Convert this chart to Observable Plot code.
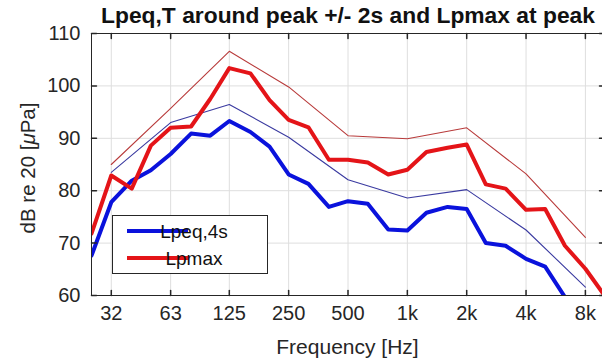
<!DOCTYPE html>
<html>
<head>
<meta charset="utf-8">
<script src="https://cdn.jsdelivr.net/npm/d3@7"></script>
<script src="https://cdn.jsdelivr.net/npm/@observablehq/plot@0.6"></script>
<style>
  html, body { margin: 0; padding: 0; background: white; overflow: hidden; }
  #chart { position: relative; width: 602px; height: 364px; }
</style>
</head>
<body>
<div id="chart"></div>
<script>
// ---- data ----
const title = "Lpeq,T around peak +/- 2s and Lpmax at peak";
const xLabel = "Frequency [Hz]";
const yLabelParts = ["dB re 20 [", "\u03bc", "Pa]"];

// 1/3-octave band centre frequencies (Hz)
const bands = [25, 31.5, 40, 50, 63, 80, 100, 125, 160, 200, 250, 315, 400, 500, 630, 800,
               1000, 1250, 1600, 2000, 2500, 3150, 4000, 5000, 6300, 8000, 10000];
// thick blue: Lpeq,4s (1/3 octave)
const lpeq = [67.6, 77.8, 81.9, 83.9, 87.0, 90.9, 90.5, 93.3, 91.2, 88.4, 83.1, 81.3, 76.9, 78.0,
              77.5, 72.6, 72.4, 75.8, 76.9, 76.5, 70.0, 69.5, 67.0, 65.5, 59.7, 55.0, 50.0];
// thick red: Lpmax (1/3 octave)
const lpmax = [71.8, 82.9, 80.4, 88.6, 92.0, 92.25, 97.5, 103.4, 102.4, 97.3, 93.5, 92.1, 85.9, 85.9,
               85.4, 83.1, 84.0, 87.4, 88.2, 88.8, 81.2, 80.4, 76.35, 76.5, 69.5, 65.1, 60.0];

// octave bands (thin lines)
const octBands = [31.5, 63, 125, 250, 500, 1000, 2000, 4000, 8000];
const octLpeq  = [83.5, 93.0, 96.45, 90.2, 82.1, 78.6, 80.2, 72.5, 61.6];
const octLpmax = [85.0, 95.7, 106.6, 99.8, 90.5, 89.9, 92.0, 83.2, 71.1];

const xTickLabels = ["32", "63", "125", "250", "500", "1k", "2k", "4k", "8k"];
const yTicks = [60, 70, 80, 90, 100, 110];

const seriesNames = ["Lpeq,4s", "Lpmax"];
const seriesColors = ["#0a12dc", "#e41418"];
const thinColors = ["#3a3aa0", "#b83a3a"];

// ---- build tables ----
const thick = [
  ...bands.map((f, i) => ({f, v: lpeq[i], s: seriesNames[0]})),
  ...bands.map((f, i) => ({f, v: lpmax[i], s: seriesNames[1]}))
];
const thin = [
  ...octBands.map((f, i) => ({f, v: octLpeq[i], s: "oct-" + seriesNames[0]})),
  ...octBands.map((f, i) => ({f, v: octLpmax[i], s: "oct-" + seriesNames[1]}))
];
const xTickData = octBands.map((f, i) => ({f, label: xTickLabels[i]}));

const W = 602, H = 364;
const mL = 91, mR = -2, mT = 33, mB = 69;
const axisColor = "#262626";
const gridColor = "#dedede";
const font = "'Liberation Sans', Arial, Helvetica, sans-serif";

const tickShape = { draw(context, l) { context.moveTo(0, 0); context.lineTo(0, -l); } };

const plot = Plot.plot({
  width: W, height: H,
  marginLeft: mL, marginRight: mR, marginTop: mT, marginBottom: mB,
  style: { fontFamily: font, fontSize: "20px", color: axisColor, background: "white", overflow: "visible" },
  x: { type: "log", domain: [25, 10000], axis: null },
  y: { domain: [60, 110], axis: null },
  marks: [
    Plot.gridX(octBands, { stroke: gridColor, strokeOpacity: 1 }),
    Plot.gridY(yTicks, { stroke: gridColor, strokeOpacity: 1 }),
    Plot.line(thin, { x: "f", y: "v", z: "s", stroke: d => d.s === "oct-" + seriesNames[0] ? thinColors[0] : thinColors[1], strokeWidth: 1.1, clip: true }),
    Plot.line(thick, { x: "f", y: "v", z: "s", stroke: d => d.s === seriesNames[0] ? seriesColors[0] : seriesColors[1], strokeWidth: 4, clip: true }),
    Plot.frame({ stroke: axisColor, strokeWidth: 1 }),
    // inward ticks
    Plot.vector(octBands, { x: d => d, frameAnchor: "bottom", length: 5, rotate: 0, anchor: "start", shape: tickShape, stroke: axisColor }),
    Plot.vector(octBands, { x: d => d, frameAnchor: "top", length: 5, rotate: 180, anchor: "start", shape: tickShape, stroke: axisColor }),
    Plot.vector(yTicks, { y: d => d, frameAnchor: "left", length: 5, rotate: 90, anchor: "start", shape: tickShape, stroke: axisColor }),
    Plot.vector(yTicks, { y: d => d, frameAnchor: "right", length: 5, rotate: -90, anchor: "start", shape: tickShape, stroke: axisColor }),
    // tick labels
    Plot.text(xTickData, { x: "f", text: "label", frameAnchor: "bottom", dy: 24, fontSize: 20, fill: axisColor }),
    Plot.text(yTicks, { y: d => d, text: d => String(d), frameAnchor: "left", dx: -11, textAnchor: "end", fontSize: 20, fill: axisColor })
  ]
});
document.getElementById("chart").appendChild(plot);

// ---- title, axis labels and legend ----
const svg = d3.select(plot);
const plotCx = (mL + (W - mR)) / 2;
const plotCy = (mT + (H - mB)) / 2;

svg.append("text")
  .attr("x", 348).attr("y", 23)
  .attr("text-anchor", "middle")
  .attr("font-family", font).attr("font-weight", "bold").attr("font-size", 22)
  .attr("textLength", 494).attr("lengthAdjust", "spacingAndGlyphs")
  .attr("fill", "#111")
  .text(title);

svg.append("text")
  .attr("x", plotCx).attr("y", 354)
  .attr("text-anchor", "middle")
  .attr("font-family", font).attr("font-size", 21)
  .attr("fill", axisColor)
  .text(xLabel);

const yl = svg.append("text")
  .attr("transform", `translate(35,${plotCy + 4}) rotate(-90)`)
  .attr("text-anchor", "middle")
  .attr("font-family", font).attr("font-size", 20.5)
  .attr("fill", axisColor);
yl.append("tspan").text(yLabelParts[0]);
yl.append("tspan").attr("font-style", "italic").text(yLabelParts[1]);
yl.append("tspan").text(yLabelParts[2]);

// legend
const lg = svg.append("g");
lg.append("rect").attr("x", 112.5).attr("y", 215.5).attr("width", 155).attr("height", 58)
  .attr("fill", "white").attr("stroke", axisColor).attr("stroke-width", 1);
seriesNames.forEach((name, i) => {
  const yy = 231 + i * 27;
  lg.append("line").attr("x1", 127).attr("x2", 188).attr("y1", yy).attr("y2", yy)
    .attr("stroke", seriesColors[i]).attr("stroke-width", 4);
  lg.append("text").attr("x", 194).attr("y", yy + 7)
    .attr("font-family", font).attr("font-size", 19).attr("fill", "#111")
    .text(name);
});
</script>
</body>
</html>
